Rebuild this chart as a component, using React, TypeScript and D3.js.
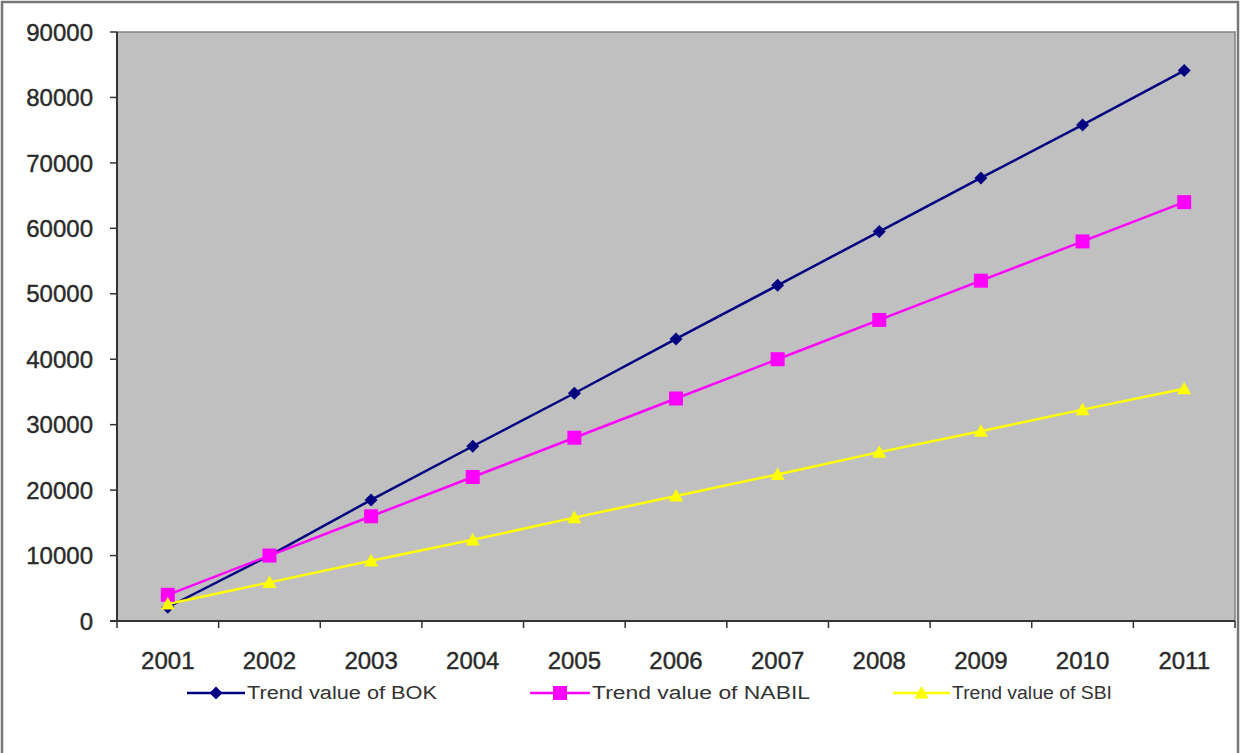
import React from "react";
import * as d3 from "d3";

const years = ["2001", "2002", "2003", "2004", "2005", "2006", "2007", "2008", "2009", "2010", "2011"];
const bokValues = [2100, 10000, 18500, 26700, 34800, 43100, 51300, 59500, 67700, 75800, 84100];
const nabilValues = [4000, 10000, 16000, 22000, 28000, 34000, 40000, 46000, 52000, 58000, 64000];
const sbiValues = [2600, 5900, 9200, 12400, 15800, 19100, 22400, 25800, 29000, 32300, 35500];
const yTicks = [0, 10000, 20000, 30000, 40000, 50000, 60000, 70000, 80000, 90000];
const seriesNames = ["Trend value of BOK", "Trend value of NABIL", "Trend value of SBI"];

const W = 1241;
const H = 753;
const plot = { left: 117, top: 32, right: 1235, bottom: 621 };

export default function App() {
  const x = d3.scaleBand<string>().domain(years).range([plot.left, plot.right]).padding(0);
  const y = d3.scaleLinear().domain([0, 90000]).range([plot.bottom, plot.top]);
  const cx = (yr: string) => (x(yr) as number) + x.bandwidth() / 2;

  const line = d3
    .line<number>()
    .x((_, i) => cx(years[i]))
    .y((v) => y(v));

  const series = [
    { name: seriesNames[0], values: bokValues, color: "#000080", shape: "diamond" },
    { name: seriesNames[1], values: nabilValues, color: "#FF00FF", shape: "square" },
    { name: seriesNames[2], values: sbiValues, color: "#FFFF00", shape: "triangle" },
  ];

  const marker = (shape: string, px: number, py: number, color: string, key?: any) => {
    if (shape === "diamond") {
      const s = 6.5;
      return (
        <path key={key} d={`M${px},${py - s}L${px + s},${py}L${px},${py + s}L${px - s},${py}Z`} fill={color} />
      );
    }
    if (shape === "square") {
      const s = 7;
      return <rect key={key} x={px - s} y={py - s} width={2 * s} height={2 * s} fill={color} />;
    }
    const s = 7;
    return (
      <path key={key} d={`M${px},${py - s}L${px + s},${py + s * 0.8}L${px - s},${py + s * 0.8}Z`} fill={color} />
    );
  };

  const legendItems = [
    { lineX0: 187, lineX1: 245, textX: 247, textLen: 190 },
    { lineX0: 530, lineX1: 590, textX: 592, textLen: 218 },
    { lineX0: 893, lineX1: 950, textX: 952, textLen: 160 },
  ];
  const legendY = 693;

  const font = "'Liberation Sans', Arial, sans-serif";

  return (
    <svg width={W} height={H} style={{ position: "absolute", left: 0, top: 0, background: "#fff" }}>
      {/* outer frame */}
      <rect x={2} y={2} width={1236} height={760} fill="#fff" stroke="#777" strokeWidth={2.5} />
      {/* plot area */}
      <rect
        x={plot.left}
        y={plot.top}
        width={plot.right - plot.left}
        height={plot.bottom - plot.top}
        fill="#C0C0C0"
        stroke="#808080"
        strokeWidth={1.5}
      />
      {/* y axis */}
      <line x1={plot.left} x2={plot.left} y1={plot.top} y2={plot.bottom} stroke="#333" strokeWidth={2} />
      {yTicks.map((t) => (
        <g key={t}>
          <line x1={plot.left - 7} x2={plot.left} y1={y(t)} y2={y(t)} stroke="#333" strokeWidth={1.5} />
          <text
            x={93}
            y={y(t)}
            dy="0.36em"
            textAnchor="end"
            fontFamily={font}
            fontSize={24}
            fill="#2a2a2a"
            stroke="#2a2a2a"
            strokeWidth={0.4}
          >
            {t}
          </text>
        </g>
      ))}
      {/* x axis */}
      <line x1={plot.left - 7} x2={plot.right} y1={plot.bottom} y2={plot.bottom} stroke="#333" strokeWidth={2} />
      {years.map((yr) => (
        <line
          key={"t" + yr}
          x1={x(yr) as number}
          x2={x(yr) as number}
          y1={plot.bottom}
          y2={plot.bottom + 7}
          stroke="#333"
          strokeWidth={1.5}
        />
      ))}
      <line x1={plot.right} x2={plot.right} y1={plot.bottom} y2={plot.bottom + 7} stroke="#333" strokeWidth={1.5} />
      {years.map((yr) => (
        <text
          key={"l" + yr}
          x={cx(yr)}
          y={660}
          dy="0.36em"
          textAnchor="middle"
          fontFamily={font}
          fontSize={24}
          fill="#2a2a2a"
          stroke="#2a2a2a"
          strokeWidth={0.4}
        >
          {yr}
        </text>
      ))}
      {/* series lines */}
      {series.map((s) => (
        <path key={s.name} d={line(s.values) as string} fill="none" stroke={s.color} strokeWidth={2.5} />
      ))}
      {series.map((s) => (
        <g key={"m" + s.name}>{s.values.map((v, i) => marker(s.shape, cx(years[i]), y(v), s.color, i))}</g>
      ))}
      {/* legend */}
      {series.map((s, i) => {
        const li = legendItems[i];
        const mx = (li.lineX0 + li.lineX1) / 2;
        return (
          <g key={"lg" + s.name}>
            <line x1={li.lineX0} x2={li.lineX1} y1={legendY} y2={legendY} stroke={s.color} strokeWidth={2.5} />
            {marker(s.shape, mx, legendY, s.color)}
            <text
              x={li.textX}
              y={legendY}
              dy="0.36em"
              fontFamily={font}
              fontSize={18}
              fill="#333"
              textLength={li.textLen}
              lengthAdjust="spacingAndGlyphs"
            >
              {s.name}
            </text>
          </g>
        );
      })}
    </svg>
  );
}
